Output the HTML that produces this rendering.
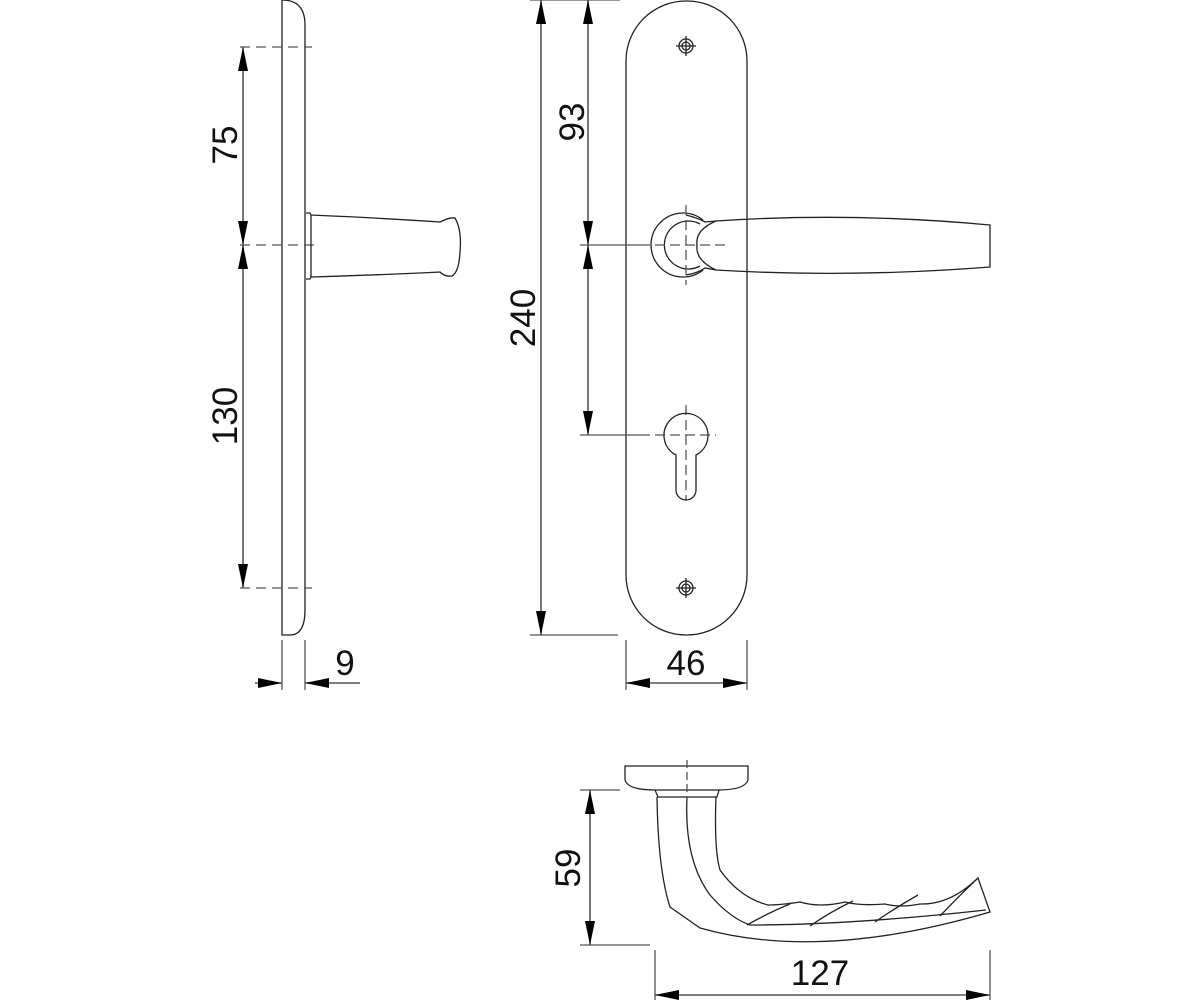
<!DOCTYPE html>
<html><head><meta charset="utf-8"><style>
html,body{margin:0;padding:0;background:#fff;}
svg{display:block;}
text{font-family:"Liberation Sans",sans-serif;font-size:35px;fill:#111;}
</style></head><body>
<svg width="1200" height="1000" viewBox="0 0 1200 1000" xmlns="http://www.w3.org/2000/svg">
<defs>
<marker id="a" viewBox="0 0 10 10" refX="10" refY="5" markerWidth="24" markerHeight="10" markerUnits="userSpaceOnUse" orient="auto-start-reverse" preserveAspectRatio="none"><path d="M0,0 L10,5 L0,10 Z" fill="#000"/></marker>
</defs>
<g fill="none" stroke="#222" stroke-width="1.3">
<!-- LEFT VIEW -->
<path d="M282,0 L282,635 L290,635 Q305,635 305,610 L305,25 Q305,0 282,0"/>
<g stroke-dasharray="10,6" stroke="#555">
<line x1="240" y1="47" x2="312" y2="47"/>
<line x1="240" y1="245" x2="318" y2="245"/>
<line x1="240" y1="588" x2="312" y2="588"/>
</g>
<line x1="243" y1="47" x2="243" y2="245" marker-start="url(#a)" marker-end="url(#a)" stroke-width="1.6" stroke="#555"/>
<line x1="243" y1="245" x2="243" y2="588" marker-start="url(#a)" marker-end="url(#a)" stroke-width="1.6" stroke="#555"/>
<path d="M306,213 L310,213 L311,215 Q380,218 440,222 Q450,217 455,218 Q462,230 460,252 Q459,272 452,276 Q445,277 440,272 Q380,275 311,277 L310,279 L306,279"/>
<line x1="311" y1="215" x2="311" y2="277"/>
<!-- 9 dim -->
<g stroke="#555">
<line x1="282" y1="640" x2="282" y2="690"/>
<line x1="305" y1="640" x2="305" y2="690"/>
<line x1="255" y1="683" x2="282" y2="683" marker-end="url(#a)" stroke-width="1.6"/>
<line x1="360" y1="683" x2="305" y2="683" marker-end="url(#a)" stroke-width="1.6"/>
</g>

<!-- MIDDLE VIEW -->
<rect x="626" y="1" width="121" height="634" rx="60" ry="60"/>
<g stroke="#555">
<line x1="530" y1="0" x2="620" y2="0"/>
<line x1="530" y1="635" x2="618" y2="635"/>
<line x1="541" y1="0" x2="541" y2="635" marker-start="url(#a)" marker-end="url(#a)" stroke-width="1.6"/>
<line x1="588" y1="0" x2="588" y2="245" marker-start="url(#a)" marker-end="url(#a)" stroke-width="1.6"/>
<line x1="588" y1="245" x2="588" y2="435" marker-start="url(#a)" marker-end="url(#a)" stroke-width="1.6"/>
<line x1="580" y1="245" x2="640" y2="245"/>
<line x1="580" y1="435" x2="640" y2="435"/>
</g>
<!-- screws -->
<circle cx="686" cy="46" r="7"/><circle cx="686" cy="46" r="4"/>
<line x1="676" y1="46" x2="696" y2="46"/><line x1="686" y1="36" x2="686" y2="56"/>
<circle cx="686" cy="588" r="7"/><circle cx="686" cy="588" r="4"/>
<line x1="676" y1="588" x2="696" y2="588"/><line x1="686" y1="578" x2="686" y2="598"/>
<!-- rose & handle -->
<path d="M703,220 A32,32 0 1 0 703,270"/>
<path d="M700,224 A24,24 0 1 0 700,266"/>
<path d="M686,215 Q698,218 705,222 L716,221 Q850,212 990,225 L990,267 Q850,278 716,270 L705,268 Q698,273 686,275"/>
<path d="M716,221 Q695,230 697,245 Q695,260 716,270"/>
<g stroke-dasharray="10,5" stroke="#555">
<line x1="640" y1="245" x2="725" y2="245"/>
<line x1="686" y1="205" x2="686" y2="285"/>
<line x1="640" y1="435" x2="716" y2="435"/>
<line x1="686" y1="405" x2="686" y2="500"/>
</g>
<!-- keyhole -->
<path d="M676,455 A22,22 0 1 1 696,455 L696,490 A10,10 0 0 1 676,490 Z"/>
<!-- 46 dim -->
<g stroke="#555">
<line x1="626" y1="640" x2="626" y2="690"/>
<line x1="747" y1="640" x2="747" y2="690"/>
<line x1="626" y1="683" x2="747" y2="683" marker-start="url(#a)" marker-end="url(#a)" stroke-width="1.6"/>
</g>

<!-- BOTTOM VIEW -->
<path d="M625,766 L748,766 L748,780 Q745,790 718,790 L655,790 Q628,790 625,780 Z"/>
<path d="M655,790 L658,797 L717,797 L719,790"/>
<path d="M657,797 Q658,870 670,907 L700,928 Q820,962 990,912 L978,878 Q950,905 920,904 Q900,908 885,904 Q860,906 845,902 Q820,908 800,902 Q780,905 768,905 Q740,898 720,870 Q714,850 716,797"/>
<path d="M687,797 Q684,860 710,895 Q730,918 750,925 Q850,925 986,910"/>
<path d="M747,925 Q770,912 790,904 M810,926 Q830,912 853,901 M875,922 Q895,908 918,895 M940,916 Q960,895 978,878"/>
<line x1="687" y1="760" x2="687" y2="800" stroke-dasharray="8,4" stroke="#555"/>
<g stroke="#555">
<line x1="580" y1="790" x2="620" y2="790"/>
<line x1="580" y1="945" x2="650" y2="945"/>
<line x1="590" y1="790" x2="590" y2="945" marker-start="url(#a)" marker-end="url(#a)" stroke-width="1.6"/>
<line x1="655" y1="950" x2="655" y2="1000"/>
<line x1="990" y1="950" x2="990" y2="1000"/>
<line x1="655" y1="995" x2="990" y2="995" marker-start="url(#a)" marker-end="url(#a)" stroke-width="1.6"/>
</g>
</g>
<!-- texts -->
<text transform="translate(237,145) rotate(-90)" text-anchor="middle">75</text>
<text transform="translate(237,416) rotate(-90)" text-anchor="middle">130</text>
<text transform="translate(535,318) rotate(-90)" text-anchor="middle">240</text>
<text transform="translate(584,122) rotate(-90)" text-anchor="middle">93</text>
<text transform="translate(580,868) rotate(-90)" text-anchor="middle">59</text>
<text x="345" y="675" text-anchor="middle">9</text>
<text x="686" y="675" text-anchor="middle">46</text>
<text x="820" y="985" text-anchor="middle">127</text>
</svg>
</body></html>
